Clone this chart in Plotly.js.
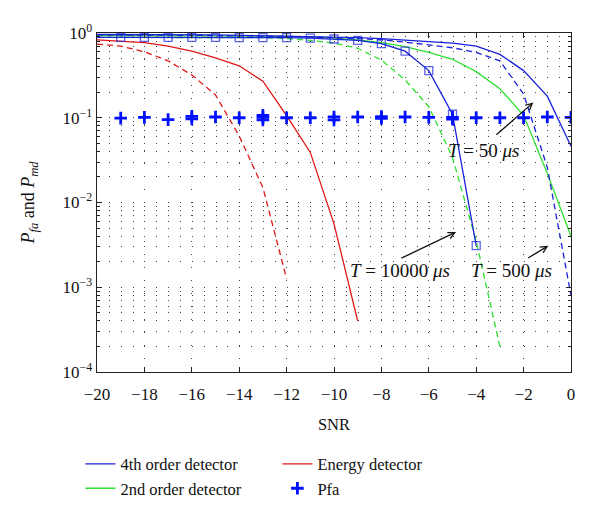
<!DOCTYPE html>
<html>
<head>
<meta charset="utf-8">
<script src="https://cdn.plot.ly/plotly-3.0.1.min.js"></script>
<style>html,body{margin:0;padding:0;background:#fff;}</style>
</head>
<body>
<div id="chart" style="width:600px;height:518px;"></div>
<script>
// ---- data ----
const snrA = [-20,-19,-18,-17,-16,-15,-14,-13,-12,-11,-10,-9,-8,-7,-6,-5,-4,-3,-2,-1,0];
const fourth50 = [0.96,0.96,0.96,0.96,0.95,0.95,0.94,0.93,0.92,0.91,0.90,0.88,0.86,0.83,0.80,0.76,0.70,0.56,0.36,0.18,0.046];
const fourth500 = [0.95,0.95,0.95,0.94,0.94,0.93,0.93,0.92,0.91,0.90,0.88,0.86,0.83,0.78,0.73,0.67,0.59,0.47,0.19,0.026,0.0008];
const second50 = [0.93,0.93,0.93,0.93,0.93,0.92,0.92,0.92,0.91,0.90,0.87,0.83,0.77,0.69,0.59,0.49,0.35,0.22,0.107,0.022,0.004];

const snrB = [-20,-19,-18,-17,-16,-15,-14,-13,-12,-11,-10,-9,-8,-7,-6,-5,-4];
const fourth10000 = [0.89,0.89,0.89,0.89,0.89,0.89,0.88,0.88,0.88,0.87,0.85,0.82,0.75,0.61,0.36,0.11,0.0031];
const fourthMarkerSize = [0,8,8,8,8,8,8,8,8,8,8,8,8,8,8,8,8];

const snrC = [-20,-19,-18,-17,-16,-15,-14,-13,-12,-11,-10,-9,-8,-7,-6,-5,-4,-3];
const second10000 = [0.89,0.89,0.89,0.89,0.89,0.89,0.89,0.88,0.86,0.82,0.76,0.66,0.48,0.28,0.135,0.034,0.0035,0.0002];

const snrE1 = [-20,-19,-18,-17,-16,-15,-14,-13,-12,-11,-10,-9];
const energySolid = [0.83,0.80,0.77,0.70,0.61,0.51,0.41,0.27,0.106,0.039,0.0056,0.0004];
const snrE2 = [-20,-19,-18,-17,-16,-15,-14,-13,-12];
const energyDashed = [0.74,0.70,0.60,0.47,0.32,0.186,0.061,0.015,0.00126];

const pfaX = [-19,-18,-17,-16,-15,-14,-13,-12,-11,-10,-9,-8,-7,-6,-5,-4,-3,-2,-1,0];
const pfaY = [0.099,0.101,0.095,0.104,0.102,0.100,0.101,0.100,0.100,0.102,0.102,0.103,0.102,0.101,0.101,0.100,0.100,0.100,0.102,0.101];
const pfa2X = [-16,-13,-13,-10,-8,-5];
const pfa2Y = [0.097,0.107,0.094,0.094,0.098,0.096];

const yTickVals = [1e-4,1e-3,1e-2,1e-1,1];
const yTickText = ['10<sup>−4</sup>','10<sup>−3</sup>','10<sup>−2</sup>','10<sup>−1</sup>','10<sup>0</sup>'];
const yMinorVals = [];
for (let e = -4; e < 0; e++) for (let m = 2; m <= 9; m++) yMinorVals.push(m * Math.pow(10, e));

// ---- styles ----
const BLUE = '#1a22d8', GREEN = '#2fe02f', RED = '#e01818', MBLUE = '#0010ff';
const LW = 1.3;

const traces = [
  {x: snrE2, y: energyDashed, mode:'lines', line:{color:RED, width:LW, dash:'6px,4px'}, showlegend:false},
  {x: snrE1, y: energySolid, mode:'lines', line:{color:RED, width:LW}, name:'Energy detector', legendrank:2},
  {x: snrC, y: second10000, mode:'lines', line:{color:GREEN, width:LW, dash:'6px,4px'}, showlegend:false},
  {x: snrA, y: second50, mode:'lines', line:{color:GREEN, width:LW}, name:'2nd order detector', legendrank:3},
  {x: snrA, y: fourth500, mode:'lines', line:{color:BLUE, width:LW, dash:'6px,4px'}, showlegend:false},
  {x: snrA, y: fourth50, mode:'lines', line:{color:BLUE, width:LW}, name:'4th order detector', legendrank:1},
  {x: snrB, y: fourth10000, mode:'lines+markers', line:{color:BLUE, width:LW},
   marker:{symbol:'square-open', size:fourthMarkerSize, color:BLUE, line:{width:1.3, color:BLUE}}, showlegend:false},
  {x: pfa2X, y: pfa2Y, mode:'markers', marker:{symbol:'cross-thin-open', size:9, color:MBLUE, line:{width:2.6, color:MBLUE}}, showlegend:false},
  {x: pfaX, y: pfaY, mode:'markers', marker:{symbol:'cross-thin-open', size:9, color:MBLUE, line:{width:2.8, color:MBLUE}}, name:'Pfa', legendrank:4}
];

const serif = 'Liberation Serif, Times New Roman, serif';
const arrowStyle = {showarrow:true, arrowhead:5, arrowsize:1, arrowwidth:1.3, arrowcolor:'#111', standoff:0, startstandoff:0, text:'', axref:'x', ayref:'y', xref:'x', yref:'y'};
const textStyle = {showarrow:false, xref:'x', yref:'y', font:{family:serif, size:19, color:'#111'}};

const layout = {
  width:600, height:518,
  margin:{l:97, r:29, t:33, b:140},
  paper_bgcolor:'#ffffff', plot_bgcolor:'#ffffff',
  font:{family:serif, size:16, color:'#111'},
  showlegend:true,
  legend:{orientation:'h', x:-0.035, xanchor:'left', y:-0.22, yanchor:'top',
          entrywidth:152, entrywidthmode:'pixels', font:{family:serif, size:16.5, color:'#111'},
          bgcolor:'rgba(0,0,0,0)'},
  xaxis:{range:[-20,0], tick0:0, dtick:2, ticks:'inside', ticklen:5, tickwidth:1, tickcolor:'#222',
         showline:true, linecolor:'#222', linewidth:1.4, mirror:'ticks', zeroline:false,
         showgrid:true, gridcolor:'#444', gridwidth:1, griddash:'1px,12px',
         ticklabelstandoff:6,
         tickfont:{family:serif, size:17, color:'#111'},
         title:{text:'SNR', font:{family:serif, size:16.5, color:'#111'}, standoff:15}},
  yaxis:{type:'log', range:[-4,0], tickmode:'array', tickvals:yTickVals, ticktext:yTickText,
         ticks:'inside', ticklen:5, tickwidth:1, tickcolor:'#222',
         showline:true, linecolor:'#222', linewidth:1.4, mirror:'ticks', zeroline:false,
         showgrid:true, gridcolor:'#444', gridwidth:1, griddash:'1px,10.85px',
         minor:{tickvals:yMinorVals, ticks:'inside', ticklen:3, tickcolor:'#222',
                showgrid:true, gridcolor:'#444', gridwidth:1, griddash:'1px,10.85px'},
         tickfont:{family:serif, size:17, color:'#111'},
         title:{text:'<i>P</i><sub><i>fa</i></sub> and <i>P</i><sub><i>md</i></sub>', font:{family:serif, size:18, color:'#111'}, standoff:23}},
  annotations:[
    Object.assign({}, arrowStyle, {x:-1.59, y:-0.819, ax:-3.21, ay:-1.217}),
    Object.assign({}, arrowStyle, {x:-4.85, y:-2.349, ax:-7.22, ay:-2.665}),
    Object.assign({}, arrowStyle, {x:-0.96, y:-2.511, ax:-1.87, ay:-2.665}),
    Object.assign({}, textStyle, {x:-3.71, y:-1.387, text:'<i>T</i> = 50 <i>μs</i>'}),
    Object.assign({}, textStyle, {x:-7.22, y:-2.80, text:'<i>T</i> = 10000 <i>μs</i>'}),
    Object.assign({}, textStyle, {x:-2.53, y:-2.80, text:'<i>T</i> = 500 <i>μs</i>'})
  ]
};

Plotly.newPlot('chart', traces, layout, {displayModeBar:false, staticPlot:true});
</script>
</body>
</html>
